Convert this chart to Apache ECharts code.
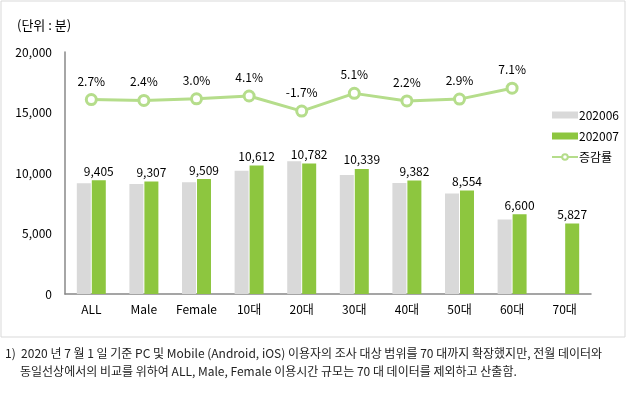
<!DOCTYPE html>
<html><head><meta charset="utf-8">
<script src="https://cdn.jsdelivr.net/npm/echarts@6/dist/echarts.min.js"></script>
<style>html,body{margin:0;padding:0;background:#fff}#c{width:630px;height:394px}</style>
</head><body><div id="c"></div>
<script>
const categories = ['ALL','Male','Female','10대','20대','30대','40대','50대','60대','70대'];
const s202006 = [9158, 9089, 9232, 10194, 10969, 9837, 9180, 8313, 6162, null];
const s202007 = [9405, 9307, 9509, 10612, 10782, 10339, 9382, 8554, 6600, 5827];
const growth = [2.7, 2.4, 3.0, 4.1, -1.7, 5.1, 2.2, 2.9, 7.1, null];
const yTicks = [0, 5000, 10000, 15000, 20000];
const unitText = '(단위 : 분)';
const note1 = '1)  2020 년 7 월 1 일 기준 PC 및 Mobile (Android, iOS) 이용자의 조사 대상 범위를 70 대까지 확장했지만, 전월 데이터와';
const note2 = '동일선상에서의 비교를 위하여 ALL, Male, Female 이용시간 규모는 70 대 데이터를 제외하고 산출함.';
const F = "'Noto Sans CJK KR', 'Noto Sans', sans-serif";
const chart = echarts.init(document.getElementById('c'));
chart.setOption({
  animation:false,
  textStyle:{fontFamily:F},
  graphic:[
    {type:'rect',shape:{x:1,y:1,width:624,height:336},style:{fill:'none',stroke:'#d9d9d9',lineWidth:1}},
    {type:'text',left:17,top:19,style:{text:unitText,font:'13px '+F,fill:'#000'}},
    {type:'text',left:5,top:347,style:{text:note1,font:'12px '+F,fill:'#222'}},
    {type:'text',left:20,top:365,style:{text:note2,font:'12px '+F,fill:'#222'}}
  ],
  legend:{
    orient:'vertical',left:546,top:104,itemWidth:26,itemHeight:7,itemGap:9,
    textStyle:{fontSize:12,color:'#000',fontFamily:F,padding:[0,0,0,-4]},
    data:[{name:'202006',icon:'rect'},{name:'202007',icon:'rect'},{name:'증감률'}]
  },
  grid:{left:65,right:39,top:52,bottom:100,containLabel:false},
  xAxis:{type:'category',data:categories,
    axisLine:{lineStyle:{color:'#888',width:1.5}},axisTick:{show:false},
    axisLabel:{color:'#000',fontSize:12,margin:9,interval:0}},
  yAxis:[
    {type:'value',min:0,max:20000,interval:5000,
      axisLine:{show:true,lineStyle:{color:'#888',width:1.5}},axisTick:{show:false},splitLine:{show:false},
      axisLabel:{color:'#000',fontSize:12,margin:13,formatter:v=>yTicks.includes(v)?v.toLocaleString('en-US'):''}},
    {type:'value',min:-72,max:21,show:false,splitLine:{show:false}}
  ],
  series:[
    {name:'202006',type:'bar',data:s202006,barWidth:14,barGap:'7%',itemStyle:{color:'#d9d9d9'}},
    {name:'202007',type:'bar',data:s202007,barWidth:14,itemStyle:{color:'#8dc63f'},
      label:{show:true,position:'top',distance:3,color:'#000',fontSize:12,
        formatter:p=>p.value.toLocaleString('en-US')}},
    {name:'증감률',type:'line',yAxisIndex:1,data:growth,symbol:'circle',symbolSize:10,
      lineStyle:{color:'#b5dd8b',width:3},
      itemStyle:{color:'#fff',borderColor:'#b5dd8b',borderWidth:3},
      label:{show:true,position:'top',distance:6,color:'#000',fontSize:12,formatter:p=>p.value.toFixed(1)+'%'}}
  ]
});
</script></body></html>
